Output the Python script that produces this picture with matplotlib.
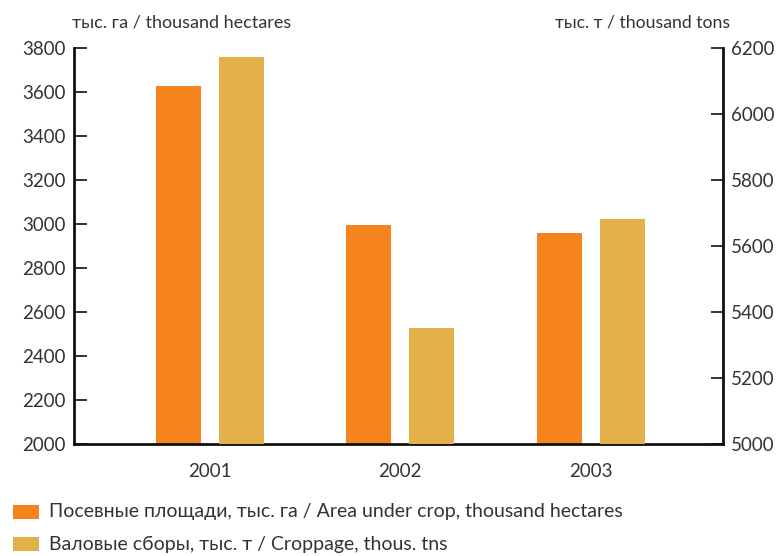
import matplotlib
matplotlib.use("Agg")
import matplotlib.pyplot as plt
from matplotlib.patches import Rectangle
import numpy as np

years = ["2001", "2002", "2003"]
area = [3627, 2995, 2959]        # thousand hectares (left axis)
croppage = [6173, 5352, 5682]    # thousand tons (right axis)
left_ticks = list(range(2000, 3801, 200))
right_ticks = list(range(5000, 6201, 200))
legend_labels = ["Посевные площади, тыс. га / Area under crop, thousand hectares",
                 "Валовые сборы, тыс. т / Croppage, thous. tns"]

plt.rcParams['font.family'] = ['Lato', 'DejaVu Sans']
txt = '#333333'
c_area = '#F5841F'
c_crop = '#E4B04A'

W, H = 782, 556
fig = plt.figure(figsize=(W / 100, H / 100), dpi=100)
ax = fig.add_axes([74 / W, (H - 444) / H, (723 - 74) / W, (444 - 48) / H])
ax2 = ax.twinx()

x = np.arange(len(years))
w = 0.236
off = 0.165
ax.bar(x - off, np.array(area) - 2000, bottom=2000, width=w, color=c_area, zorder=2)
ax2.bar(x + off, np.array(croppage) - 5000, bottom=5000, width=w, color=c_crop, zorder=2)

ax.set_xlim(-0.714, 2.695)
ax.set_ylim(2000, 3800)
ax2.set_ylim(5000, 6200)
ax.set_yticks(left_ticks)
ax2.set_yticks(right_ticks)
ax.set_xticks(x)
ax.set_xticklabels(years)

for a in (ax, ax2):
    a.spines['top'].set_visible(False)
    for s in a.spines.values():
        s.set_linewidth(2)
        s.set_color('#111111')
ax.spines['right'].set_visible(False)
ax2.spines['left'].set_visible(False)
ax2.spines['bottom'].set_visible(False)

ax.tick_params(axis='y', direction='in', length=9, width=1.2, labelsize=13.5, colors='#111111', labelcolor=txt, pad=6)
ax2.tick_params(axis='y', direction='in', length=9, width=1.2, labelsize=13.5, colors='#111111', labelcolor=txt, pad=6)
ax.tick_params(axis='x', length=0, labelsize=13.5, labelcolor=txt, pad=14)

fig.text(72 / W, 1 - 22 / H, "тыс. га / thousand hectares", fontsize=13, color=txt, va='center', ha='left')
fig.text(730 / W, 1 - 22 / H, "тыс. т / thousand tons", fontsize=12.7, color=txt, va='center', ha='right')

colors = [c_area, c_crop]
ycent = [512, 544]
for lab, col, yc in zip(legend_labels, colors, ycent):
    fig.add_artist(Rectangle((13 / W, (H - yc - 7) / H), 26 / W, 14 / H,
                             transform=fig.transFigure, facecolor=col, edgecolor='none'))
    fig.text(49 / W, (H - yc) / H, lab, fontsize=14, color=txt, va='center', ha='left')

fig.savefig("out.png", dpi=100)
